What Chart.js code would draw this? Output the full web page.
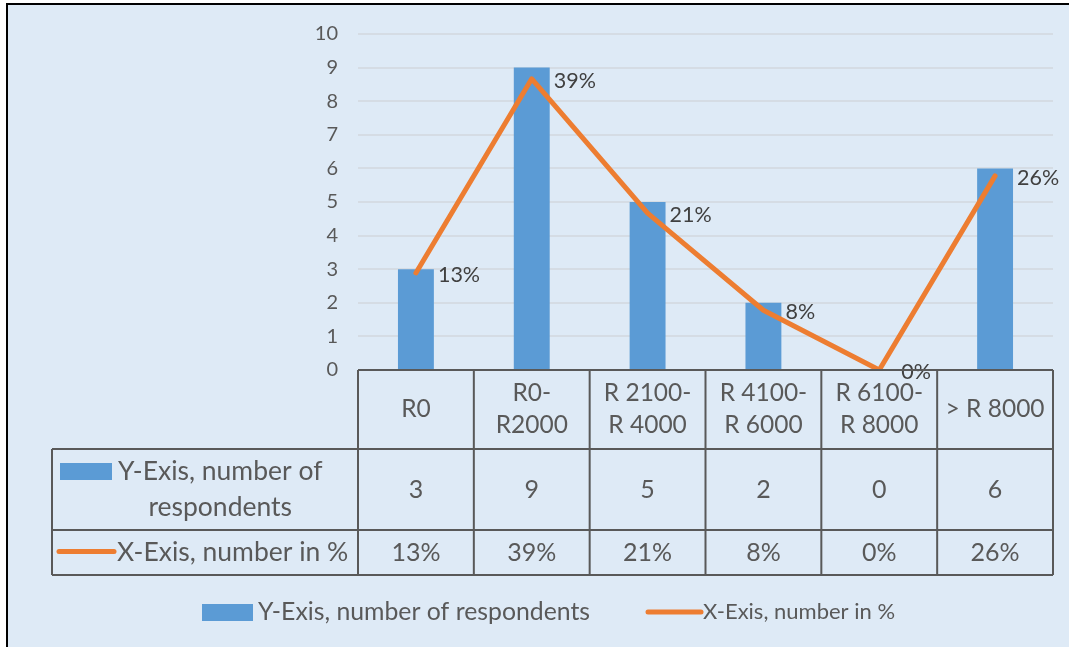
<!DOCTYPE html>
<html>
<head>
<meta charset="utf-8">
<script src="https://cdn.jsdelivr.net/npm/chart.js@4.4.1/dist/chart.umd.min.js"></script>
<style>
  html, body { margin: 0; padding: 0; background: #fff; }
  #wrap { width: 1069px; height: 647px; }
</style>
</head>
<body>
<div id="wrap"><canvas id="chart" width="1069" height="647"></canvas></div>
<script>
// income brackets (multi-line labels as they appear in the table header)
const categories = [
  ['R0'],
  ['R0-', 'R2000'],
  ['R 2100-', 'R 4000'],
  ['R 4100-', 'R 6000'],
  ['R 6100-', 'R 8000'],
  ['> R 8000']
];
const respondents = [3, 9, 5, 2, 0, 6];
const percentShare = [13, 39, 21, 8, 0, 26];
const seriesNames = ['Y-Exis, number of respondents', 'X-Exis, number in %'];

const BLUE = '#5B9BD5';
const ORANGE = '#ED7D31';
const TEXT = '#595959';
const FONT = 'Lato, "Open Sans", sans-serif';

function wrapText(ctx, text, maxWidth) {
  const words = text.split(' ');
  const lines = [];
  let line = '';
  words.forEach(w => {
    const test = line ? line + ' ' + w : w;
    if (ctx.measureText(test).width > maxWidth && line) {
      lines.push(line);
      line = w;
    } else {
      line = test;
    }
  });
  if (line) lines.push(line);
  return lines;
}

const frameAndTable = {
  id: 'frameAndTable',
  beforeDraw(chart) {
    const { ctx, width, height } = chart;
    ctx.save();
    ctx.fillStyle = '#ffffff';
    ctx.fillRect(0, 0, width, height);
    ctx.fillStyle = '#DEEAF6';
    ctx.fillRect(7, 4, width - 7, height - 4);
    ctx.strokeStyle = '#000000';
    ctx.lineWidth = 2;
    ctx.beginPath();
    ctx.moveTo(7, height);
    ctx.lineTo(7, 4);
    ctx.lineTo(width, 4);
    ctx.stroke();
    ctx.restore();
  },
  afterDatasetsDraw(chart) {
    // percentage labels to the right of each line point
    const { ctx } = chart;
    const meta = chart.getDatasetMeta(1);
    ctx.save();
    ctx.font = '21.5px ' + FONT;
    ctx.fillStyle = '#404040';
    ctx.textAlign = 'left';
    ctx.textBaseline = 'middle';
    meta.data.forEach((pt, i) => {
      ctx.fillText(percentShare[i] + '%', pt.x + 22, pt.y + 2);
    });
    ctx.restore();
  },
  afterDraw(chart) {
    const { ctx, chartArea: area } = chart;
    const xs = chart.scales.x;
    const colW = area.width / categories.length;
    const tableLeft = 52;
    const yTop = area.bottom;
    const yHead = yTop + 79;
    const yRow1 = yHead + 81;
    const yRow2 = yRow1 + 45;

    ctx.save();
    ctx.strokeStyle = '#595959';
    ctx.lineWidth = 2;
    ctx.beginPath();
    ctx.moveTo(area.left, yTop); ctx.lineTo(area.right, yTop);
    [yHead, yRow1, yRow2].forEach(y => { ctx.moveTo(tableLeft, y); ctx.lineTo(area.right, y); });
    for (let i = 0; i <= categories.length; i++) {
      const x = area.left + i * colW;
      ctx.moveTo(x, yTop); ctx.lineTo(x, yRow2);
    }
    ctx.moveTo(tableLeft, yHead); ctx.lineTo(tableLeft, yRow2);
    ctx.stroke();

    ctx.fillStyle = TEXT;
    ctx.textAlign = 'center';
    ctx.textBaseline = 'middle';
    const headMid = (yTop + yHead) / 2;
    categories.forEach((lines, i) => {
      const cx = xs.getPixelForValue(i);
      ctx.font = '24.5px ' + FONT;
      lines.forEach((ln, k) => {
        ctx.fillText(ln, cx, headMid + (k - (lines.length - 1) / 2) * 32);
      });
      ctx.font = '25px ' + FONT;
      ctx.fillText(String(respondents[i]), cx, (yHead + yRow1) / 2);
      ctx.fillText(percentShare[i] + '%', cx, (yRow1 + yRow2) / 2);
    });

    // row headers with series keys
    ctx.font = '26.5px ' + FONT;
    ctx.fillStyle = BLUE;
    ctx.fillRect(tableLeft + 8, yHead + 14, 52, 17);
    ctx.fillStyle = TEXT;
    const nameLines = wrapText(ctx, seriesNames[0], 230);
    const firstW = ctx.measureText(nameLines[0]).width;
    const textCx = tableLeft + 66 + firstW / 2;
    ctx.textAlign = 'center';
    nameLines.forEach((ln, k) => {
      ctx.fillText(ln, textCx, yHead + 22 + k * 36);
    });

    ctx.strokeStyle = ORANGE;
    ctx.lineWidth = 5;
    ctx.lineCap = 'round';
    ctx.beginPath();
    ctx.moveTo(tableLeft + 7, (yRow1 + yRow2) / 2 - 1);
    ctx.lineTo(tableLeft + 62, (yRow1 + yRow2) / 2 - 1);
    ctx.stroke();
    ctx.textAlign = 'left';
    ctx.fillText(seriesNames[1], tableLeft + 65, (yRow1 + yRow2) / 2);

    // legend
    const ly = 612;
    ctx.fillStyle = BLUE;
    ctx.fillRect(202, ly - 8, 51, 17);
    ctx.fillStyle = TEXT;
    ctx.font = '24.8px ' + FONT;
    ctx.fillText(seriesNames[0], 258, ly);
    ctx.beginPath();
    ctx.moveTo(648, ly);
    ctx.lineTo(701, ly);
    ctx.stroke();
    ctx.font = '22px ' + FONT;
    ctx.fillText(seriesNames[1], 703, ly);
    ctx.restore();
  }
};

new Chart(document.getElementById('chart'), {
  data: {
    labels: categories,
    datasets: [
      {
        type: 'bar',
        label: seriesNames[0],
        data: respondents,
        backgroundColor: BLUE,
        categoryPercentage: 1,
        barPercentage: 0.31,
        yAxisID: 'y',
        order: 1
      },
      {
        type: 'line',
        label: seriesNames[1],
        data: percentShare,
        borderColor: ORANGE,
        borderWidth: 5,
        borderJoinStyle: 'round',
        borderCapStyle: 'round',
        pointRadius: 0,
        tension: 0,
        yAxisID: 'y1',
        order: 0
      }
    ]
  },
  options: {
    responsive: false,
    animation: false,
    layout: { padding: { top: 34, right: 16, bottom: 277, left: 0 } },
    plugins: {
      legend: { display: false },
      tooltip: { enabled: false }
    },
    scales: {
      x: {
        type: 'category',
        display: false,
        offset: true
      },
      y: {
        min: 0,
        max: 10,
        ticks: { stepSize: 1, color: TEXT, font: { family: FONT, size: 20 }, padding: 20 },
        grid: { color: '#D5DCE4', lineWidth: 2, drawTicks: false },
        border: { display: false },
        afterFit(scale) { scale.width = 358; }
      },
      y1: {
        min: 0,
        max: 45,
        display: false
      }
    }
  },
  plugins: [frameAndTable]
});
</script>
</body>
</html>
